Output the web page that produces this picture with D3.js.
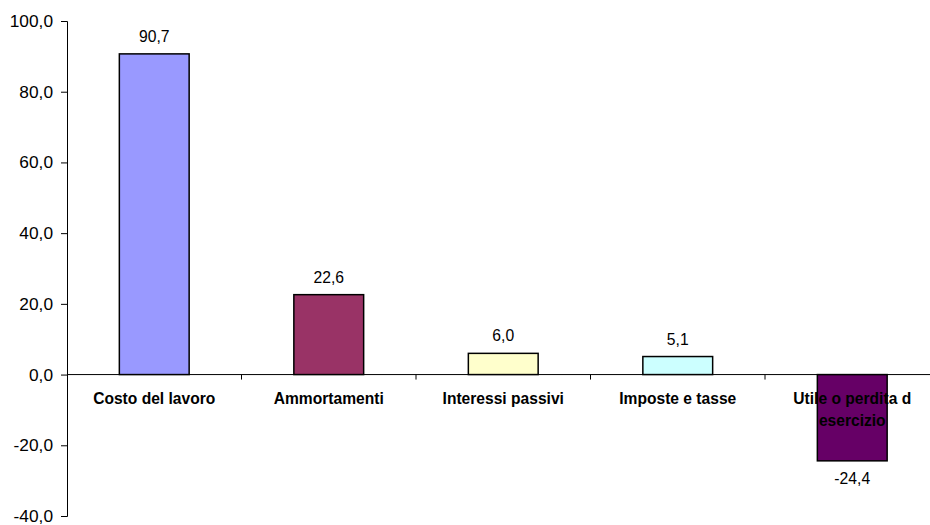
<!DOCTYPE html>
<html><head><meta charset="utf-8">
<script src="https://cdn.jsdelivr.net/npm/d3@7"></script>
<style>
html,body{margin:0;padding:0;background:#fff;}
svg{display:block;font-family:"Liberation Sans",Arial,sans-serif;}
</style></head>
<body>
<script>
const categories = ["Costo del lavoro","Ammortamenti","Interessi passivi","Imposte e tasse","Utile o perdita d esercizio"];
const categoryLines = [["Costo del lavoro"],["Ammortamenti"],["Interessi passivi"],["Imposte e tasse"],["Utile o perdita d","esercizio"]];
const values = [90.7, 22.6, 6.0, 5.1, -24.4];
const colors = ["#9999FF","#993366","#FFFFCC","#CCFFFF","#660066"];
const yTicks = [-40,-20,0,20,40,60,80,100];

const W = 930, H = 525;
const svg = d3.select("body").append("svg").attr("width", W).attr("height", H);

const x0 = 67, x1 = 939.5;
const x = d3.scaleBand().domain(categories).range([x0, x1]).paddingInner(0).paddingOuter(0);
const y = d3.scaleLinear().domain([-40, 100]).range([516, 21]);
const fmt = v => d3.format(".1f")(v).replace(".", ",").replace("−","-");

// bars
const barW = x.bandwidth() * 0.4;
svg.append("g").selectAll("rect").data(values).join("rect")
  .attr("x", (d,i) => x(categories[i]) + (x.bandwidth() - barW)/2)
  .attr("y", d => y(Math.max(0,d)))
  .attr("width", barW)
  .attr("height", d => Math.abs(y(d) - y(0)))
  .attr("fill", (d,i) => colors[i])
  .attr("stroke", "#000").attr("stroke-width", 1.5);

// y axis
const yAxis = d3.axisLeft(y).tickValues(yTicks).tickSize(6).tickPadding(8).tickFormat(fmt);
const gy = svg.append("g").attr("transform", `translate(${x0},0)`).call(yAxis);
gy.select(".domain").attr("stroke", "#000").attr("stroke-width", 1);
gy.selectAll(".tick line").attr("stroke", "#000");
gy.selectAll(".tick text").attr("font-size", "17.3px").attr("fill", "#000")
  .attr("font-family", "Liberation Sans, Arial, sans-serif");

// zero axis line
svg.append("line").attr("x1", x0).attr("x2", W).attr("y1", y(0)).attr("y2", y(0))
  .attr("stroke", "#000").attr("stroke-width", 1);
// category ticks
svg.append("g").selectAll("line").data(categories.slice(1)).join("line")
  .attr("x1", d => x(d)).attr("x2", d => x(d))
  .attr("y1", y(0)).attr("y2", y(0) + 5)
  .attr("stroke", "#000");

// value labels
svg.append("g").selectAll("text").data(values).join("text")
  .attr("x", (d,i) => x(categories[i]) + x.bandwidth()/2)
  .attr("y", d => d >= 0 ? y(d) - 12 : y(d) + 23)
  .attr("text-anchor", "middle")
  .attr("font-size", "15.7px").attr("fill", "#000")
  .text(d => fmt(d));

// category labels
const cl = svg.append("g").selectAll("text").data(categories).join("text")
  .attr("x", d => x(d) + x.bandwidth()/2)
  .attr("y", y(0) + 29.5)
  .attr("text-anchor", "middle")
  .attr("font-size", "15.6px").attr("font-weight", "bold").attr("fill", "#000");
cl.each(function(d,i){
  const t = d3.select(this);
  categoryLines[i].forEach((ln, j) => {
    t.append("tspan").attr("x", x(d) + x.bandwidth()/2).attr("dy", j === 0 ? 0 : 22.4).text(ln);
  });
});
</script>
</body></html>
